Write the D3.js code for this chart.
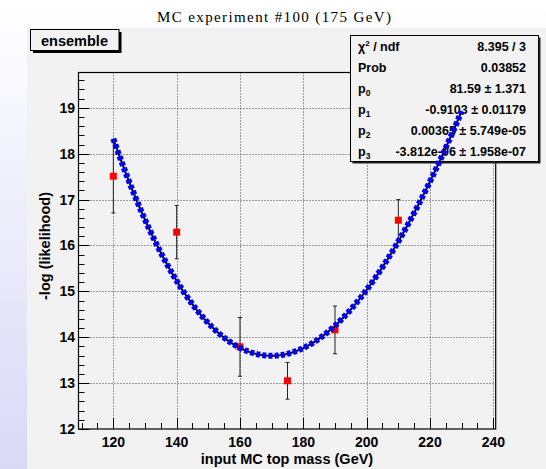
<!DOCTYPE html>
<html>
<head>
<meta charset="utf-8">
<script src="https://cdn.jsdelivr.net/npm/d3@7"></script>
<style>
  body { margin: 0; padding: 0; overflow: hidden; }
  svg { display: block; }
  text { font-family: "Liberation Sans", Arial, sans-serif; }
</style>
</head>
<body>
<div id="chart"></div>
<script>
// input top mass points (GeV) and -log(likelihood) with errors
const masses = [120, 140, 160, 175, 190, 210];
const nll = [17.51, 16.29, 13.79, 13.05, 14.16, 16.55];
const nllErr = [0.80, 0.58, 0.64, 0.40, 0.52, 0.45];

// pol3 fit parameters p0..p3
const fitPars = [81.59, -0.9103, 0.00365, -3.812e-06];
const fitRange = [120, 230];

const xTicks = [120, 140, 160, 180, 200, 220, 240];
const yTicks = [12, 13, 14, 15, 16, 17, 18, 19];

const statLabels = ["χ2 / ndf", "Prob", "p0", "p1", "p2", "p3"];
const statValues = ["8.395 / 3", "0.03852", "81.59 ± 1.371", "-0.9103 ± 0.01179",
                    "0.00365 ± 5.749e-05", "-3.812e-06 ± 1.958e-07"];

const W = 546, H = 469;
const frame = { left: 78.5, right: 495.7, top: 72.5, bottom: 429 };

const svg = d3.select("#chart").append("svg")
  .attr("width", W).attr("height", H);

const defs = svg.append("defs");
const grad = defs.append("linearGradient").attr("id", "bg")
  .attr("x1", 0).attr("y1", 0).attr("x2", 0).attr("y2", 1);
grad.append("stop").attr("offset", "0%").attr("stop-color", "#ffffff");
grad.append("stop").attr("offset", "100%").attr("stop-color", "#d9d9f6");

svg.append("rect").attr("width", W).attr("height", H).attr("fill", "url(#bg)");
svg.append("rect").attr("x", 27).attr("y", 28).attr("width", W - 27).attr("height", H - 28)
  .attr("fill", "#f2f2f2");

// title
svg.append("text")
  .attr("x", 274).attr("y", 22)
  .attr("text-anchor", "middle")
  .style("font-family", "'Liberation Serif', 'DejaVu Serif', serif")
  .style("font-size", "15px")
  .attr("textLength", 234)
  .text("MC experiment #100 (175 GeV)");

const x = d3.scaleLinear().domain([109.0, 240.75]).range([frame.left, frame.right]);
const y = d3.scaleLinear().domain([12, 19.77]).range([frame.bottom, frame.top]);

// grid
const grid = svg.append("g").attr("stroke", "#444").attr("stroke-width", 1)
  .attr("stroke-dasharray", "1,2");
grid.selectAll(".gx").data(xTicks).enter().append("line")
  .attr("x1", d => Math.round(x(d)) + 0.5).attr("x2", d => Math.round(x(d)) + 0.5)
  .attr("y1", frame.top).attr("y2", frame.bottom);
grid.selectAll(".gy").data(yTicks.slice(1)).enter().append("line")
  .attr("y1", d => Math.round(y(d)) + 0.5).attr("y2", d => Math.round(y(d)) + 0.5)
  .attr("x1", frame.left).attr("x2", frame.right);

// frame
svg.append("rect")
  .attr("x", frame.left).attr("y", frame.top)
  .attr("width", frame.right - frame.left).attr("height", frame.bottom - frame.top)
  .attr("fill", "none").attr("stroke", "#000").attr("stroke-width", 1.2);

// ticks
const tk = svg.append("g").attr("stroke", "#000").attr("stroke-width", 1);
const yMinor = d3.range(12, 19.77, 0.2);
tk.selectAll(".ty").data(yMinor).enter().append("line")
  .attr("x1", frame.left)
  .attr("x2", (d, i) => frame.left + (i % 5 === 0 ? 11 : 6))
  .attr("y1", d => Math.round(y(d)) + 0.5).attr("y2", d => Math.round(y(d)) + 0.5);
const xMinor = d3.range(110, 241, 5);
tk.selectAll(".tx").data(xMinor).enter().append("line")
  .attr("y1", frame.bottom)
  .attr("y2", d => frame.bottom - (d % 20 === 0 ? 11 : 6))
  .attr("x1", d => Math.round(x(d)) + 0.5).attr("x2", d => Math.round(x(d)) + 0.5);

// tick labels
svg.selectAll(".yl").data(yTicks).enter().append("text")
  .attr("x", 75).attr("y", d => y(d) + 5)
  .attr("text-anchor", "end")
  .style("font-size", "14px").style("font-weight", "bold")
  .text(d => d);
svg.selectAll(".xl").data(xTicks).enter().append("text")
  .attr("x", d => x(d)).attr("y", 447)
  .attr("text-anchor", "middle")
  .style("font-size", "14px").style("font-weight", "bold")
  .text(d => d);

// axis titles
svg.append("text")
  .attr("x", 287).attr("y", 464)
  .attr("text-anchor", "middle")
  .style("font-size", "14.5px").style("font-weight", "bold")
  .text("input MC top mass (GeV)");
svg.append("text")
  .attr("transform", "translate(50,246) rotate(-90)")
  .attr("text-anchor", "middle")
  .style("font-size", "14.5px").style("font-weight", "bold")
  .text("-log (likelihood)");

// data points with error bars
const pts = svg.append("g");
masses.forEach((m, i) => {
  const px = x(m);
  const y0 = y(nll[i] - nllErr[i]), y1 = y(nll[i] + nllErr[i]);
  pts.append("line").attr("x1", px).attr("x2", px).attr("y1", y0).attr("y2", y1)
    .attr("stroke", "#222").attr("stroke-width", 1);
  [y0, y1].forEach(yy => pts.append("line")
    .attr("x1", px - 2).attr("x2", px + 2).attr("y1", yy).attr("y2", yy)
    .attr("stroke", "#222").attr("stroke-width", 1));
  pts.append("rect")
    .attr("x", px - 3.5).attr("y", y(nll[i]) - 3.5)
    .attr("width", 7).attr("height", 7)
    .attr("fill", "#ff0000");
});

// "ensemble" label box
svg.append("rect").attr("x", 33).attr("y", 32).attr("width", 88.5).attr("height", 21)
  .attr("fill", "#000");
svg.append("rect").attr("x", 30.5).attr("y", 29.5).attr("width", 88.5).attr("height", 21)
  .attr("fill", "#f2f2f2").attr("stroke", "#000").attr("stroke-width", 1);
svg.append("text").attr("x", 74.5).attr("y", 45.5)
  .attr("text-anchor", "middle")
  .style("font-size", "14.5px").style("font-weight", "bold")
  .text("ensemble");

// stats box
const sb = { x: 350.5, y: 35.5, w: 188, h: 126 };
svg.append("rect").attr("x", sb.x + 2).attr("y", sb.y + 2).attr("width", sb.w).attr("height", sb.h)
  .attr("fill", "#222");
svg.append("rect").attr("x", sb.x).attr("y", sb.y).attr("width", sb.w).attr("height", sb.h)
  .attr("fill", "#f2f2f2").attr("stroke", "#000").attr("stroke-width", 1);
const rowH = sb.h / statLabels.length;
statLabels.forEach((lab, i) => {
  const by = sb.y + rowH * (i + 0.5) + 5;
  const t = svg.append("text").attr("x", 358).attr("y", by)
    .style("font-size", "12.5px").style("font-weight", "bold");
  if (i === 0) {
    t.append("tspan").text("χ");
    t.append("tspan").attr("dy", -5).style("font-size", "8px").text("2");
    t.append("tspan").attr("dy", 5).text(" / ndf");
  } else if (i === 1) {
    t.text(lab);
  } else {
    t.append("tspan").text("p");
    t.append("tspan").attr("dy", 3).style("font-size", "8.5px").text(lab.slice(1));
  }
  svg.append("text").attr("x", 526).attr("y", by)
    .attr("text-anchor", "end")
    .style("font-size", "12.5px").style("font-weight", "bold")
    .text(statValues[i]);
});

// fit curve (pol3 from the fit parameters)
const pol3 = m => fitPars[0] + fitPars[1] * m + fitPars[2] * m * m + fitPars[3] * m * m * m;
const curvePts = d3.range(fitRange[0], fitRange[1] + 0.01, 0.5).map(m => [m, pol3(m)]);
const line = d3.line().x(d => x(d[0])).y(d => y(d[1])).curve(d3.curveLinear);
svg.append("path").datum(curvePts).attr("d", line)
  .attr("fill", "none").attr("stroke", "#000").attr("stroke-width", 2);
svg.append("path").datum(curvePts).attr("d", line)
  .attr("fill", "none").attr("stroke", "#0000ff").attr("stroke-width", 6)
  .attr("stroke-dasharray", "4,2.2");
</script>
</body>
</html>
